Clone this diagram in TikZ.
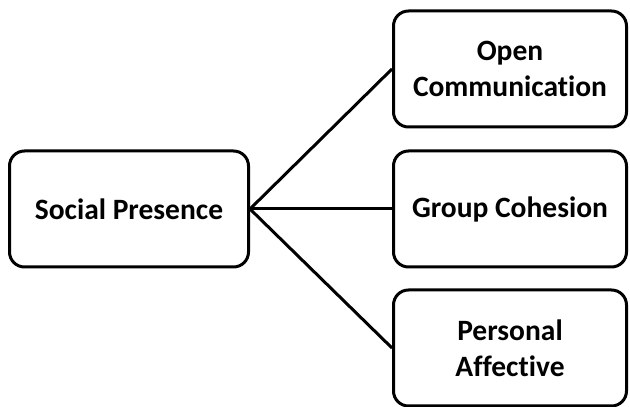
\documentclass[tikz,border=0pt]{standalone}
\usepackage{fontspec}
\setmainfont[Ligatures={NoCommon}]{Carlito}
\begin{document}
\begin{tikzpicture}[x=1pt,y=1pt,
  box/.style={draw=black, line width=3pt, rounded corners=15pt, fill=white,
    minimum height=116pt, align=center, inner sep=0pt,
    font=\fontsize{29.5}{36}\selectfont\bfseries},
  conn/.style={draw=black, line width=3pt}]
\useasboundingbox (0,0) rectangle (630,407);
\node[box, minimum width=239pt] (sp) at (129,198) {Social Presence};
\node[box, minimum width=233pt] (oc) at (510,338) {Open\\Communication};
\node[box, minimum width=233pt] (gc) at (510,198) {Group Cohesion};
\node[box, minimum width=233pt] (pa) at (510,59) {Personal\\Affective};
\draw[conn] (sp.east) -- (oc.west);
\draw[conn] (sp.east) -- (gc.west);
\draw[conn] (sp.east) -- (pa.west);
\end{tikzpicture}
\end{document}
